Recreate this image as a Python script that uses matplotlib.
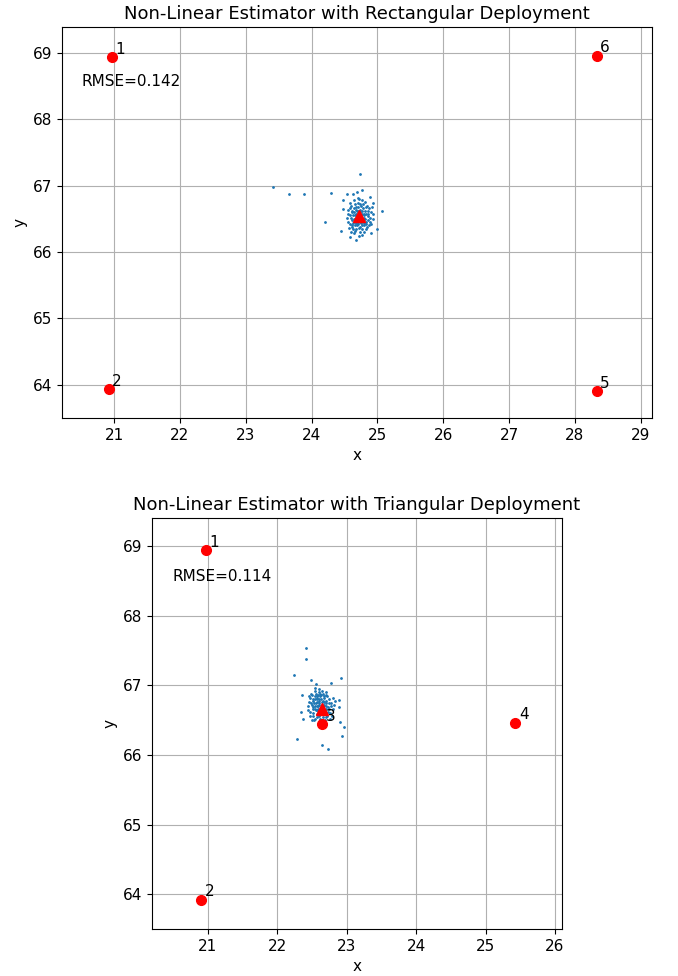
import matplotlib
matplotlib.use('Agg')
import matplotlib.pyplot as plt

# anchor positions (rectangular deployment)
rectAnchorX = [20.97, 20.92, 28.33, 28.33]
rectAnchorY = [68.94, 63.93, 63.90, 68.96]
rectAnchorId = ['1', '2', '5', '6']
rectTrue = (24.72, 66.55)
rectRmse = 0.142

# estimated positions (rectangular deployment)
rectEstX = [24.72, 24.65, 24.78, 24.70, 24.81, 24.60, 24.75, 24.68, 24.85, 24.58,
            24.74, 24.63, 24.88, 24.77, 24.66, 24.71, 24.80, 24.56, 24.90, 24.62,
            24.84, 24.69, 24.76, 24.73, 24.67, 24.79, 24.61, 24.82, 24.64, 24.87,
            24.70, 24.59, 24.93, 24.55, 24.74, 24.83, 24.66, 24.78, 24.72, 24.68,
            24.81, 24.62, 24.91, 24.57, 24.76, 24.70, 24.75, 24.64, 24.86, 24.69,
            24.80, 24.73, 24.60, 24.84, 24.67, 24.77, 24.71, 24.63, 24.89, 24.74,
            24.58, 24.82, 24.66, 24.79, 24.70, 24.76, 24.61, 24.85, 24.72, 24.68,
            24.94, 24.54, 24.78, 24.65, 24.83, 24.70, 24.75, 24.62, 24.87, 24.73,
            24.60, 24.80, 24.69, 24.77, 24.64, 24.92, 24.56, 24.74, 24.81, 24.67,
            24.71, 24.76, 24.63, 24.85, 24.68, 24.79, 24.72, 24.66, 24.82, 24.59,
            24.73, 23.42, 23.66, 23.89, 24.29, 24.21, 24.44, 24.47, 24.54, 24.63,
            24.69, 24.77, 24.88, 24.94, 25.07, 24.99, 24.90, 24.67, 24.58, 24.47]
rectEstY = [66.55, 66.60, 66.48, 66.42, 66.62, 66.52, 66.70, 66.35, 66.55, 66.66,
            66.30, 66.44, 66.45, 66.78, 66.72, 66.62, 66.40, 66.58, 66.60, 66.38,
            66.70, 66.50, 66.58, 66.46, 66.64, 66.52, 66.48, 66.34, 66.28, 66.66,
            66.82, 66.74, 66.50, 66.45, 66.38, 66.46, 66.56, 66.66, 66.24, 66.68,
            66.76, 66.62, 66.42, 66.36, 66.50, 66.58, 66.44, 66.50, 66.58, 66.40,
            66.56, 66.64, 66.70, 66.38, 66.46, 66.34, 66.74, 66.56, 66.52, 66.60,
            66.42, 66.68, 66.32, 66.44, 66.68, 66.26, 66.60, 66.48, 66.36, 66.58,
            66.58, 66.52, 66.72, 66.78, 66.58, 66.46, 66.54, 66.40, 66.40, 66.72,
            66.30, 66.30, 66.62, 66.62, 66.66, 66.68, 66.64, 66.48, 66.50, 66.52,
            66.52, 66.40, 66.34, 66.62, 66.44, 66.58, 66.80, 66.40, 66.42, 66.56,
            67.18, 66.98, 66.88, 66.87, 66.89, 66.45, 66.31, 66.78, 66.87, 66.87,
            66.90, 66.94, 66.83, 66.74, 66.62, 66.34, 66.28, 66.18, 66.22, 66.65]

# anchor positions (triangular deployment)
triAnchorX = [20.97, 20.91, 22.65, 25.43]
triAnchorY = [68.94, 63.92, 66.44, 66.46]
triAnchorId = ['1', '2', '3', '4']
triTrue = (22.65, 66.66)
triRmse = 0.114

# estimated positions (triangular deployment)
triEstX = [22.60, 22.55, 22.66, 22.58, 22.70, 22.50, 22.63, 22.57, 22.73, 22.48,
           22.62, 22.54, 22.76, 22.65, 22.56, 22.61, 22.69, 22.46, 22.78, 22.52,
           22.72, 22.59, 22.64, 22.62, 22.57, 22.68, 22.51, 22.71, 22.53, 22.75,
           22.60, 22.49, 22.80, 22.45, 22.63, 22.71, 22.56, 22.67, 22.61, 22.58,
           22.70, 22.52, 22.79, 22.47, 22.65, 22.60, 22.64, 22.54, 22.74, 22.59,
           22.68, 22.62, 22.50, 22.72, 22.56, 22.66, 22.61, 22.53, 22.77, 22.63,
           22.48, 22.70, 22.55, 22.67, 22.59, 22.65, 22.51, 22.73, 22.61, 22.57,
           22.82, 22.44, 22.66, 22.55, 22.71, 22.59, 22.64, 22.52, 22.76, 22.62,
           22.50, 22.69, 22.58, 22.66, 22.54, 22.81, 22.46, 22.63, 22.70, 22.57,
           22.60, 22.65, 22.52, 22.74, 22.58, 22.68, 22.61, 22.55, 22.71, 22.49,
           22.42, 22.41, 22.25, 22.92, 22.78, 22.49, 22.56, 22.28, 22.65, 22.73,
           22.93, 22.97, 22.90, 22.37, 22.34, 22.89, 22.83, 22.36, 22.89]
triEstY = [66.75, 66.80, 66.70, 66.64, 66.78, 66.72, 66.86, 66.58, 66.68, 66.82,
           66.52, 66.66, 66.60, 66.92, 66.88, 66.80, 66.62, 66.76, 66.74, 66.60,
           66.84, 66.70, 66.76, 66.66, 66.82, 66.72, 66.68, 66.54, 66.50, 66.80,
           66.95, 66.88, 66.66, 66.64, 66.58, 66.66, 66.74, 66.82, 66.46, 66.84,
           66.90, 66.78, 66.56, 66.56, 66.68, 66.78, 66.62, 66.70, 66.74, 66.60,
           66.76, 66.84, 66.86, 66.56, 66.64, 66.54, 66.90, 66.74, 66.70, 66.80,
           66.62, 66.86, 66.52, 66.64, 66.86, 66.48, 66.80, 66.62, 66.56, 66.76,
           66.72, 66.70, 66.88, 66.92, 66.74, 66.66, 66.72, 66.56, 66.52, 66.88,
           66.50, 66.50, 66.80, 66.78, 66.84, 66.82, 66.84, 66.64, 66.70, 66.70,
           66.62, 66.58, 66.66, 66.66, 66.54, 66.84, 66.72, 66.96, 66.60, 66.74,
           67.54, 67.37, 67.14, 67.11, 67.03, 67.08, 67.02, 66.23, 66.14, 66.09,
           66.27, 66.40, 66.47, 66.51, 66.62, 66.79, 66.78, 66.86, 66.68]


def drawPanel(ax, estX, estY, anchorX, anchorY, anchorId, true, rmse, title):
    ax.scatter(estX, estY, s=1, color='C0', zorder=2)
    ax.plot(anchorX, anchorY, 'ro', markersize=7, zorder=3)
    for i in range(len(anchorX)):
        ax.text(anchorX[i] + 0.05, anchorY[i] + 0.05, anchorId[i], fontsize=11, zorder=4)
    ax.plot(true[0], true[1], 'r^', markersize=9, zorder=4)
    ax.text(20.5, 68.5, 'RMSE=' + str(rmse), fontsize=11)
    ax.set_title(title, fontsize=13)
    ax.set_xlabel('x', fontsize=11)
    ax.set_ylabel('y', fontsize=11)
    ax.tick_params(labelsize=11)
    ax.grid(True)
    ax.set_axisbelow(True)


fig = plt.figure(figsize=(6.78, 9.76), dpi=100)

ax1 = fig.add_axes([62 / 678, (976 - 418) / 976, 590 / 678, 391 / 976])
drawPanel(ax1, rectEstX, rectEstY, rectAnchorX, rectAnchorY, rectAnchorId,
          rectTrue, rectRmse, 'Non-Linear Estimator with Rectangular Deployment')
ax1.set_xlim(20.21, 29.17)
ax1.set_ylim(63.5, 69.39)

ax2 = fig.add_axes([152 / 678, 47 / 976, 410 / 678, 411 / 976])
drawPanel(ax2, triEstX, triEstY, triAnchorX, triAnchorY, triAnchorId,
          triTrue, triRmse, 'Non-Linear Estimator with Triangular Deployment')
ax2.set_xlim(20.2, 26.1)
ax2.set_ylim(63.5, 69.4)

plt.savefig('out.png', dpi=100)
